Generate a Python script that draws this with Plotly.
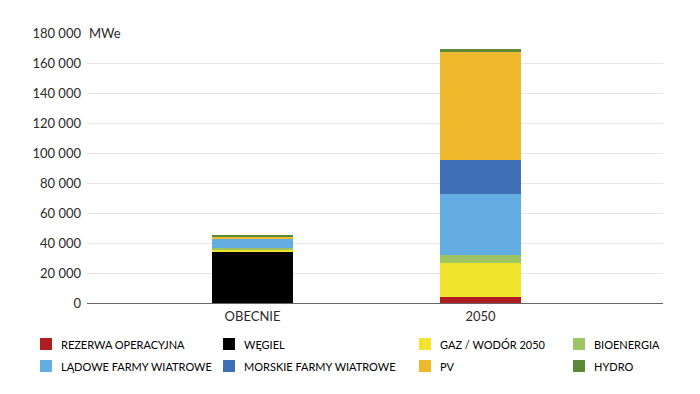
import plotly.graph_objects as go

categories = ["OBECNIE", "2050"]
series_names = ["REZERWA OPERACYJNA", "WĘGIEL", "GAZ / WODÓR 2050", "BIOENERGIA",
                "LĄDOWE FARMY WIATROWE", "MORSKIE FARMY WIATROWE", "PV", "HYDRO"]
rezerwa = [0, 4300]
wegiel = [34000, 0]
gaz = [1800, 22600]
bioenergia = [700, 4900]
ladowe = [6000, 40700]
morskie = [0, 23000]
pv = [1500, 72000]
hydro = [900, 2000]
tick_vals = [0, 20000, 40000, 60000, 80000, 100000, 120000, 140000, 160000, 180000]
colors = ["#b01d21", "#000000", "#f0e42c", "#9dc55f", "#63ade2", "#3f70b6", "#efb92d", "#5c8a38"]

values = [rezerwa, wegiel, gaz, bioenergia, ladowe, morskie, pv, hydro]

# page body has an 8px margin; figure is sized so page is exactly 700x394
OFF = 8
W, H = 684, 378
L, T = 87 - OFF, 33 - OFF
R = W - (663 - OFF)
B = H - (303 - OFF)
pw, ph = W - L - R, H - T - B

def px(x):
    return (x - OFF - L) / pw

def py(y):
    return (H - B - (y - OFF)) / ph

fig = go.Figure()
for name, vals, col in zip(series_names, values, colors):
    fig.add_trace(go.Bar(x=categories, y=vals, name=name, marker=dict(color=col, line=dict(width=0)),
                         width=0.355, showlegend=False))

fig.update_layout(
    barmode="stack",
    width=W, height=H,
    margin=dict(l=L, r=R, t=T, b=B, pad=0),
    plot_bgcolor="white", paper_bgcolor="white",
    separators=", ",
    font=dict(family="Lato", size=13, color="#2a2a2a"),
    xaxis=dict(range=[-0.726, 1.80], showgrid=False, ticks="", showline=False,
               ticklabelstandoff=4, tickfont=dict(size=13, color="#2a2a2a")),
    yaxis=dict(range=[0, 180000], tickvals=tick_vals, tickformat=",d",
               showgrid=True, gridcolor="#e6e6e6", gridwidth=1,
               zeroline=True, zerolinecolor="#666666", zerolinewidth=1,
               ticks="", ticklen=0, ticklabelstandoff=5,
               tickfont=dict(size=13, color="#2a2a2a"),
               showline=False),
)

fig.add_annotation(x=px(86), y=py(33), xref="paper", yref="paper", text="MWe",
                   showarrow=False, xanchor="left", yanchor="middle",
                   font=dict(size=13, color="#2a2a2a"), bgcolor="white", borderpad=2)

legend_cols = [40, 223, 419, 573]
legend_rows = [344, 366]
for i in range(len(series_names)):
    r, c = divmod(i, 4)
    x0 = legend_cols[c]
    yc = legend_rows[r]
    fig.add_shape(type="rect", xref="paper", yref="paper",
                  x0=px(x0), x1=px(x0 + 12), y0=py(yc + 6), y1=py(yc - 6),
                  fillcolor=colors[i], line=dict(width=0))
    fig.add_annotation(x=px(x0 + 19), y=py(yc), xref="paper", yref="paper",
                       text=series_names[i], showarrow=False, xanchor="left", yanchor="middle",
                       font=dict(size=11, color="#000000", family="Lato"))

fig.write_html("out.html")
